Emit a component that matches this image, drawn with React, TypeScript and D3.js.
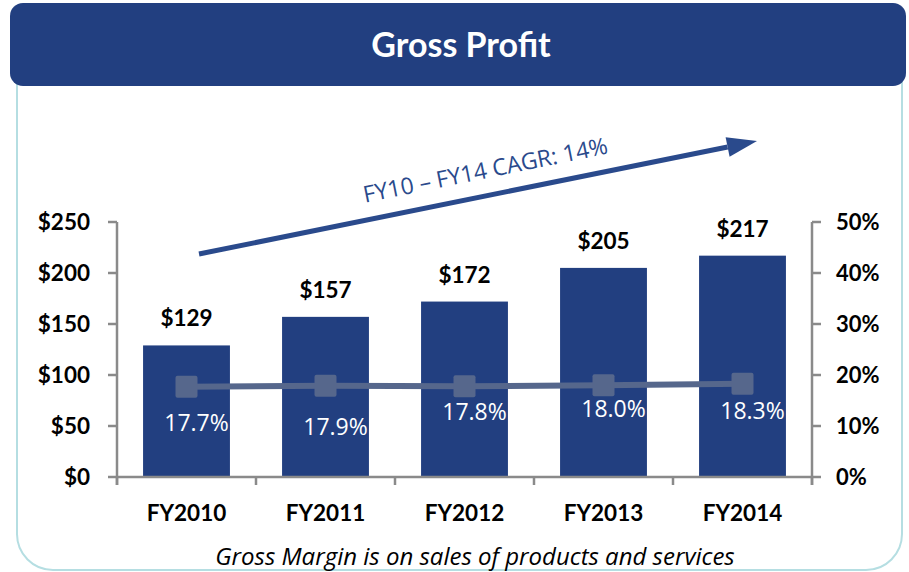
import React from 'react';
import * as d3 from 'd3';

// chart values
const years = ["FY2010", "FY2011", "FY2012", "FY2013", "FY2014"];
const grossProfit = [129, 157, 172, 205, 217];
const grossMargin = [17.7, 17.9, 17.8, 18.0, 18.3];
const leftTicks = [0, 50, 100, 150, 200, 250];
const rightTicks = [0, 10, 20, 30, 40, 50];
const cagrText = "FY10 \u2013 FY14 CAGR: 14%";

// small nudges for the margin labels, as in the slide
const labelDy = [36, 41, 26, 24, 27];

const W = 909, H = 572;
const plot = { left: 117, right: 812, top: 222, bottom: 477 };
const navy = "#223F80";
const axisGrey = "#8A8A8A";
const font = "Lato, 'Open Sans', sans-serif";
const font2 = "'Open Sans', sans-serif";

const App = () => {
    const x = d3.scaleBand<string>()
                .domain(years)
                .range([plot.left, plot.right])
                .paddingInner(0.375)
                .paddingOuter(0.1875);
    const yLeft = d3.scaleLinear().domain([0, 250]).range([plot.bottom, plot.top]);
    const yRight = d3.scaleLinear().domain([0, 50]).range([plot.bottom, plot.top]);
    const cx = (d: string) => (x(d) as number) + x.bandwidth() / 2;

    const marginLine = d3.line<number>()
                         .x((d, i) => cx(years[i]))
                         .y(d => yRight(d));

    // arrow for the CAGR note
    const a0: [number, number] = [199, 254];
    const a1: [number, number] = [757, 141];
    const ang = Math.atan2(a1[1] - a0[1], a1[0] - a0[0]);
    const headLen = 30, headHalf = 10;
    const base: [number, number] = [a1[0] - headLen * Math.cos(ang), a1[1] - headLen * Math.sin(ang)];
    const head = [
        a1,
        [base[0] + headHalf * Math.sin(ang), base[1] - headHalf * Math.cos(ang)],
        [base[0] - headHalf * Math.sin(ang), base[1] + headHalf * Math.cos(ang)],
    ].map(p => p.join(",")).join(" ");
    const deg = ang * 180 / Math.PI;

    const tickEdges = years.map(d => x(d) as number - x.step() * 0.375 / 2).concat([plot.right]);

    return (
        <svg width={W} height={H} style={{ position: "absolute", left: 0, top: 0, background: "#fff" }}
             fontFamily={font}>
            {/* frame */}
            <rect x={17} y={4} width={885} height={566} rx={36} fill="none" stroke="#B5DEE2" strokeWidth={2} />
            {/* banner */}
            <rect x={10} y={3} width={896} height={83} rx={13} fill={navy} />
            <text x={461} y={57} textAnchor="middle" fill="#fff" fontSize={34} fontWeight="bold">Gross Profit</text>

            {/* bars */}
            {years.map((d, i) => (
                <rect key={d} x={x(d)} y={yLeft(grossProfit[i])} width={x.bandwidth()}
                      height={plot.bottom - yLeft(grossProfit[i])} fill={navy} />
            ))}
            {years.map((d, i) => (
                <text key={d} x={cx(d)} y={yLeft(grossProfit[i]) - 19} textAnchor="middle"
                      fontSize={22.5} fontWeight="bold" fill="#000">${grossProfit[i]}</text>
            ))}

            {/* axes */}
            <g stroke={axisGrey} strokeWidth={2.5} fill="none">
                <line x1={plot.left} x2={plot.left} y1={plot.top} y2={plot.bottom + 8} />
                <line x1={plot.right} x2={plot.right} y1={plot.top} y2={plot.bottom + 8} />
                <line x1={plot.left} x2={plot.right} y1={plot.bottom} y2={plot.bottom} />
                {leftTicks.map(t => (
                    <line key={"l" + t} x1={plot.left - 9} x2={plot.left} y1={yLeft(t)} y2={yLeft(t)} />
                ))}
                {rightTicks.map(t => (
                    <line key={"r" + t} x1={plot.right} x2={plot.right + 9} y1={yRight(t)} y2={yRight(t)} />
                ))}
                {tickEdges.map((e, i) => (
                    <line key={"c" + i} x1={e} x2={e} y1={plot.bottom} y2={plot.bottom + 8} />
                ))}
            </g>
            {leftTicks.map(t => (
                <text key={t} x={90} y={yLeft(t)} dy="0.35em" textAnchor="end" fontSize={22.5}
                      fontWeight="bold" fill="#000">${t}</text>
            ))}
            {rightTicks.map(t => (
                <text key={t} x={836} y={yRight(t)} dy="0.35em" textAnchor="start" fontSize={22}
                      fontWeight="bold" fill="#000">{t}%</text>
            ))}
            {years.map(d => (
                <text key={d} x={cx(d)} y={521} textAnchor="middle" fontSize={22.5}
                      fontWeight="bold" fill="#000">{d}</text>
            ))}

            {/* margin line */}
            <path d={marginLine(grossMargin) || ""} fill="none" stroke="#56678C" strokeWidth={6} />
            {grossMargin.map((m, i) => (
                <rect key={i} x={cx(years[i]) - 11} y={yRight(m) - 11} width={22} height={22}
                      rx={2} fill="#56678C" />
            ))}
            {grossMargin.map((m, i) => (
                <text key={i} x={cx(years[i]) + 10} y={yRight(m) + labelDy[i]} dy="0.35em"
                      textAnchor="middle" fontFamily={font2} fontSize={23} fill="#fff">{m.toFixed(1)}%</text>
            ))}

            {/* CAGR arrow */}
            <line x1={a0[0]} y1={a0[1]} x2={base[0]} y2={base[1]} stroke="#2A4A8C" strokeWidth={5} />
            <polygon points={head} fill="#2A4A8C" />
            <text transform={`translate(487,178) rotate(${deg})`} textAnchor="middle" fontFamily={font2}
                  fontSize={23} fill="#2A4A8C">{cagrText}</text>

            {/* footnote */}
            <text x={475} y={565} textAnchor="middle" fontFamily={font2} fontSize={24} fontStyle="italic" fill="#000">
                Gross Margin is on sales of products and services
            </text>
        </svg>
    );
};

export default App;
